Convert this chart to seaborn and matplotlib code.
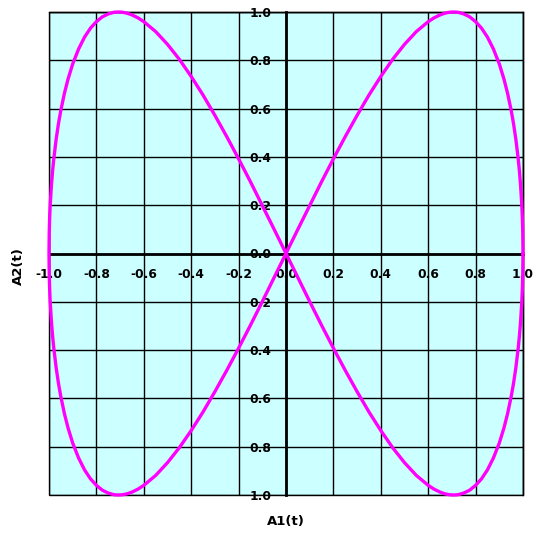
import matplotlib
matplotlib.use("Agg")
import matplotlib.pyplot as plt
import seaborn as sns
import pandas as pd
from matplotlib.patches import Rectangle

# Curve points, in drawing order (four lobes / segments)
seg1_a1 = [1.0, 0.999, 0.997, 0.995, 0.99, 0.985, 0.98, 0.97, 0.96, 0.95, 0.935, 0.92, 0.9, 0.875, 0.85, 0.825, 0.8,
           0.775, 0.75, 0.725, 0.707, 0.69, 0.67, 0.65, 0.625, 0.6, 0.55, 0.5, 0.45, 0.4, 0.35, 0.3, 0.25, 0.2,
           0.15, 0.1, 0.05, 0.0]
seg1_a2 = [0.0, 0.089, 0.154, 0.199, 0.279, 0.340, 0.390, 0.472, 0.538, 0.593, 0.663, 0.721, 0.785, 0.847, 0.896,
           0.933, 0.96, 0.980, 0.992, 0.999, 1.0, 0.999, 0.995, 0.988, 0.976, 0.96, 0.919, 0.866, 0.804, 0.733,
           0.656, 0.572, 0.484, 0.392, 0.297, 0.199, 0.100, 0.0]

seg2_a1 = [-0.05, -0.1, -0.15, -0.2, -0.25, -0.3, -0.35, -0.4, -0.45, -0.5, -0.55, -0.6, -0.625, -0.65, -0.67,
           -0.69, -0.707, -0.725, -0.75, -0.775, -0.8, -0.825, -0.85, -0.875, -0.9, -0.92, -0.935, -0.95, -0.96,
           -0.97, -0.98, -0.985, -0.99, -0.995, -0.997, -0.999, -1.0]
seg2_a2 = [-0.100, -0.199, -0.297, -0.392, -0.484, -0.572, -0.656, -0.733, -0.804, -0.866, -0.919, -0.96, -0.976,
           -0.988, -0.995, -0.999, -1.0, -0.999, -0.992, -0.980, -0.96, -0.933, -0.896, -0.847, -0.785, -0.721,
           -0.663, -0.593, -0.538, -0.472, -0.390, -0.340, -0.279, -0.199, -0.154, -0.089, 0.0]

seg3_a1 = [-0.999, -0.997, -0.995, -0.99, -0.985, -0.98, -0.97, -0.96, -0.95, -0.935, -0.92, -0.9, -0.875, -0.85,
           -0.825, -0.8, -0.775, -0.75, -0.725, -0.707, -0.69, -0.67, -0.65, -0.625, -0.6, -0.55, -0.5, -0.45,
           -0.4, -0.35, -0.3, -0.25, -0.2, -0.15, -0.1, -0.05, 0.0]
seg3_a2 = [0.089, 0.154, 0.199, 0.279, 0.340, 0.390, 0.472, 0.538, 0.593, 0.663, 0.721, 0.785, 0.847, 0.896,
           0.933, 0.96, 0.980, 0.992, 0.999, 1.0, 0.999, 0.995, 0.988, 0.976, 0.96, 0.919, 0.866, 0.804, 0.733,
           0.656, 0.572, 0.484, 0.392, 0.297, 0.199, 0.100, 0.0]

seg4_a1 = [0.05, 0.1, 0.15, 0.2, 0.25, 0.3, 0.35, 0.4, 0.45, 0.5, 0.55, 0.6, 0.625, 0.65, 0.67, 0.69, 0.707,
           0.725, 0.75, 0.775, 0.8, 0.825, 0.85, 0.875, 0.9, 0.92, 0.935, 0.95, 0.96, 0.97, 0.98, 0.985, 0.99,
           0.995, 0.997, 0.999, 1.0]
seg4_a2 = [-0.100, -0.199, -0.297, -0.392, -0.484, -0.572, -0.656, -0.733, -0.804, -0.866, -0.919, -0.96, -0.976,
           -0.988, -0.995, -0.999, -1.0, -0.999, -0.992, -0.980, -0.96, -0.933, -0.896, -0.847, -0.785, -0.721,
           -0.663, -0.593, -0.538, -0.472, -0.390, -0.340, -0.279, -0.199, -0.154, -0.089, 0.0]

x_ticks = [-1.0, -0.8, -0.6, -0.4, -0.2, 0.0, 0.2, 0.4, 0.6, 0.8, 1.0]
x_tick_labels = ["-1.0", "-0.8", "-0.6", "-0.4", "-0.2", "0.0", "0.2", "0.4", "0.6", "0.8", "1.0"]
y_ticks = [-1.0, -0.8, -0.6, -0.4, -0.2, 0.0, 0.2, 0.4, 0.6, 0.8, 1.0]
y_tick_labels = ["1.0", "0.8", "0.6", "0.4", "0.2", "0.0", "0.2", "0.4", "0.6", "0.8", "1.0"]

sns.set_style("white")
plt.rcParams['font.family'] = ['DejaVu Sans']
plt.rcParams['text.color'] = 'black'
plt.rcParams['axes.labelcolor'] = 'black'
plt.rcParams['xtick.color'] = 'black'
plt.rcParams['ytick.color'] = 'black'

fig = plt.figure(figsize=(5.33, 5.38), dpi=100)
ax = fig.add_axes([49/533, 1 - 495/538, 474/533, 483/538])
ax.set_facecolor("#CCFFFF")

df = pd.DataFrame({
    "A1": seg1_a1 + seg2_a1 + seg3_a1 + seg4_a1,
    "A2": seg1_a2 + seg2_a2 + seg3_a2 + seg4_a2,
})
sns.lineplot(data=df, x="A1", y="A2", sort=False, estimator=None, ax=ax,
             color="#FF00FF", linewidth=2.4, zorder=5)
for ln in ax.lines:
    ln.set_clip_on(False)

ax.set_xlim(-1, 1)
ax.set_ylim(-1, 1)
ax.set_xticks(x_ticks)
ax.set_xticklabels(x_tick_labels)
ax.set_yticks(y_ticks)
ax.set_yticklabels(y_tick_labels)

ax.grid(True, color="black", linewidth=1.0, zorder=1)
ax.set_axisbelow(True)

for s in ["left", "bottom"]:
    ax.spines[s].set_position("zero")
    ax.spines[s].set_linewidth(2.0)
    ax.spines[s].set_color("black")
    ax.spines[s].set_zorder(4)
for s in ["top", "right"]:
    ax.spines[s].set_linewidth(1.0)
    ax.spines[s].set_color("black")
ax.add_patch(Rectangle((0, 0), 1, 1, transform=ax.transAxes, fill=False,
                       edgecolor="black", linewidth=1.0, zorder=3, clip_on=False))

ax.tick_params(axis="both", direction="inout", length=4.3, width=1, color="black",
               labelcolor="black", labelsize=8.8, pad=8.4)
for lab in ax.get_xticklabels() + ax.get_yticklabels():
    lab.set_fontweight("bold")
    lab.set_color("black")

ax.set_xlabel("A1(t)", fontsize=9.5, fontweight="bold", color="black")
ax.set_ylabel("A2(t)", fontsize=9.5, fontweight="bold", color="black")
ax.xaxis.set_label_coords(0.5, -0.041)
ax.yaxis.set_label_coords(-0.051, 0.474)

fig.savefig("out.png", dpi=100, facecolor="white")
